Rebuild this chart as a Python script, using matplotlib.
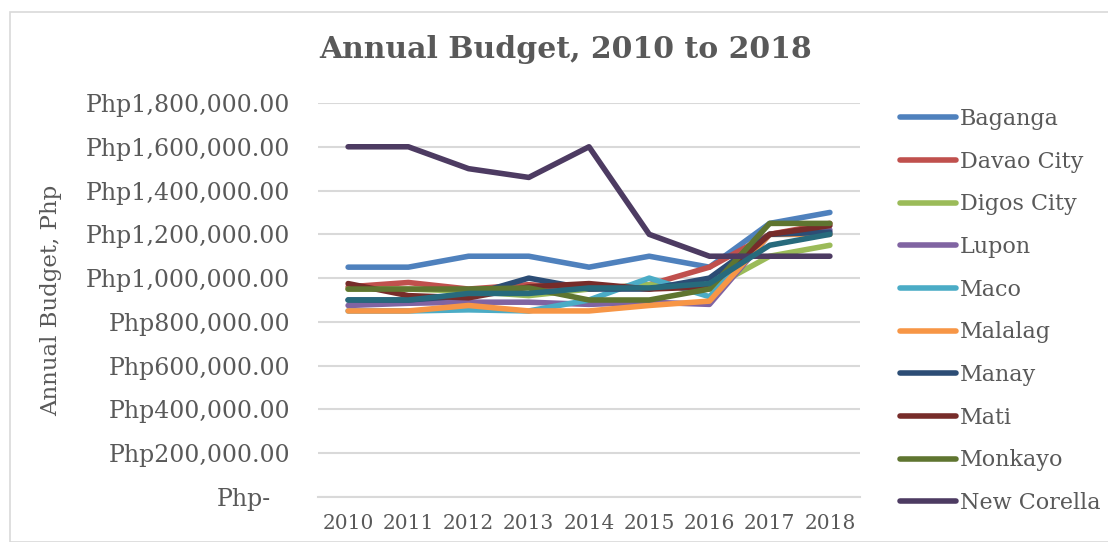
import matplotlib
matplotlib.use('Agg')
import matplotlib.pyplot as plt
from matplotlib.patches import Rectangle
from matplotlib.ticker import FuncFormatter

plt.rcParams['font.family'] = ['DejaVu Serif']

years = ['2010', '2011', '2012', '2013', '2014', '2015', '2016', '2017', '2018']

baganga     = [1050000, 1050000, 1100000, 1100000, 1050000, 1100000, 1050000, 1250000, 1300000]
davao_city  = [960000, 980000, 950000, 970000, 950000, 970000, 1050000, 1200000, 1250000]
digos_city  = [950000, 950000, 940000, 920000, 950000, 970000, 950000, 1100000, 1150000]
lupon       = [875000, 885000, 890000, 890000, 880000, 890000, 880000, 1200000, 1220000]
maco        = [850000, 850000, 855000, 850000, 900000, 1000000, 915000, 1200000, 1200000]
malalag     = [850000, 850000, 875000, 850000, 850000, 875000, 895000, 1200000, 1200000]
manay       = [900000, 900000, 920000, 1000000, 950000, 950000, 1000000, 1200000, 1210000]
mati        = [975000, 920000, 910000, 960000, 975000, 950000, 960000, 1200000, 1240000]
monkayo     = [950000, 950000, 950000, 955000, 900000, 900000, 950000, 1250000, 1250000]
new_corella = [1600000, 1600000, 1500000, 1460000, 1600000, 1200000, 1100000, 1100000, 1100000]
extra       = [900000, 900000, 930000, 930000, 955000, 955000, 975000, 1150000, 1200000]

names = ['Baganga', 'Davao City', 'Digos City', 'Lupon', 'Maco', 'Malalag',
         'Manay', 'Mati', 'Monkayo', 'New Corella']
series = [baganga, davao_city, digos_city, lupon, maco, malalag,
          manay, mati, monkayo, new_corella]
colors = ['#4F81BD', '#C0504D', '#9BBB59', '#8064A2', '#4BACC6', '#F79646',
          '#2C4D75', '#772C2A', '#5F7530', '#4D3B62']

txt = '#595959'

fig = plt.figure(figsize=(11.08, 5.42), dpi=100)
fig.patches.append(Rectangle((10/1108, 0), 1.2, 1 - 12/542, transform=fig.transFigure,
                             fill=False, edgecolor='#D9D9D9', linewidth=1.2))

ax = fig.add_axes([318/1108, 1 - 497/542, 542/1108, 394/542])
x = list(range(len(years)))
for vals, name, c in zip(series, names, colors):
    ax.plot(x, vals, color=c, linewidth=4, label=name, solid_capstyle='round')
ax.plot(x, extra, color='#276A7C', linewidth=4, solid_capstyle='round', label='_nolegend_')

ax.set_xlim(-0.5, 8.5)
ax.set_ylim(0, 1800000)
ax.set_yticks(range(0, 1800001, 200000))
ax.yaxis.set_major_formatter(FuncFormatter(
    lambda v, p: 'Php-' if v == 0 else 'Php{:,.2f}'.format(v)))
ax.set_xticks(x)
ax.set_xticklabels(years)
ax.grid(axis='y', color='#D9D9D9', linewidth=1.5)
ax.set_axisbelow(True)
for s in ['top', 'right', 'left']:
    ax.spines[s].set_visible(False)
ax.spines['bottom'].set_color('#D9D9D9')
ax.spines['bottom'].set_linewidth(1.5)
ax.tick_params(length=0, labelcolor=txt)
ax.tick_params(axis='y', labelsize=17, pad=20)
ax.tick_params(axis='x', labelsize=14.5, pad=12)
# Excel pads the zero label to the left
ax.get_yticklabels()[0].set_x(-0.035)
ax.set_ylabel('Annual Budget, Php', fontsize=16.5, color=txt)
ax.yaxis.set_label_coords(-(318 - 62) / 542, 0.5)

fig.text(566/1108, 1 - 50/542, 'Annual Budget, 2010 to 2018', ha='center', va='center',
         fontsize=21.5, fontweight='bold', color=txt)

fig.legend(loc='upper left', bbox_to_anchor=(900/1108, 1 - 108/542), frameon=False,
           borderaxespad=0, borderpad=0,
           fontsize=16, labelcolor=txt, handlelength=2.5, handletextpad=0.18,
           labelspacing=0.93)

fig.savefig('out.png', dpi=100)
